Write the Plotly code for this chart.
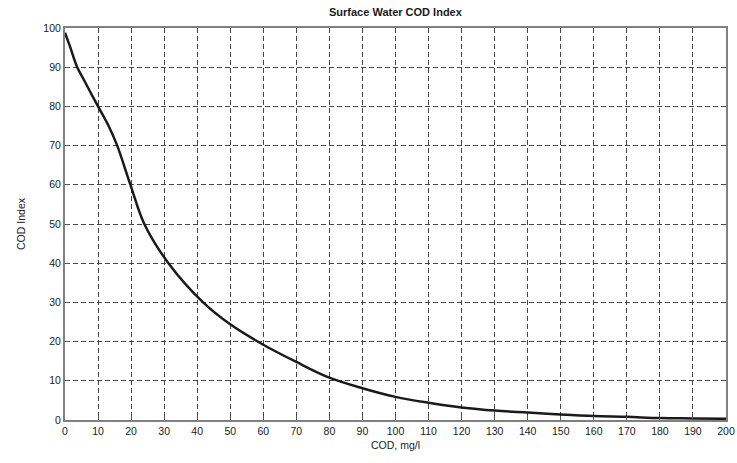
import plotly.graph_objects as go

cod_mg_l = [0, 1.5, 3.7, 5.7, 7.7, 10, 13.2, 15.8, 19.8, 24, 31.3, 41.8, 50, 60,
            70, 80, 90, 100, 110, 120, 130, 140, 150, 160, 170, 180, 190, 200]
cod_index = [98.8, 95.3, 90, 86.8, 83.6, 80, 75, 70, 60, 50, 40, 30, 24.4, 19.2,
             14.8, 10.8, 8.1, 5.9, 4.4, 3.2, 2.4, 1.9, 1.4, 1.0, 0.8, 0.5, 0.4, 0.3]

title_text = "Surface Water COD Index"
x_title = "COD, mg/l"
y_title = "COD Index"

fig = go.Figure()
fig.add_trace(go.Scatter(x=cod_mg_l, y=cod_index, mode="lines",
                         line=dict(color="#1a1a1a", width=2.5, shape="spline", smoothing=1.0),
                         showlegend=False))

font = dict(family="Liberation Sans, Arial, sans-serif", size=10.5, color="#1a1a1a")

axis_common = dict(showgrid=True, gridcolor="#444", griddash="5px,3px", gridwidth=1,
                   showline=True, linecolor="#808080", linewidth=2, mirror=True,
                   ticks="inside", ticklen=4, tickcolor="#555", zeroline=False,
                   tickfont=font, automargin=False)

fig.update_layout(
    width=737, height=463,
    margin=dict(l=65, r=11, t=28, b=43),
    paper_bgcolor="white", plot_bgcolor="white",
    font=font,
    xaxis=dict(range=[0, 200], dtick=10, tick0=0,
               title=dict(text=x_title, standoff=6, font=font), **axis_common),
    yaxis=dict(range=[0, 100], dtick=10, tick0=0,
               title=dict(text=y_title, standoff=16, font=font), **axis_common),
    annotations=[dict(text="<b>" + title_text + "</b>", x=0.5, xref="paper", xanchor="center",
                      y=1, yref="paper", yanchor="bottom", yshift=8, showarrow=False,
                      font=dict(family="Liberation Sans, Arial, sans-serif", size=11, color="#1a1a1a"))],
)

fig.write_html("out.html", config={"displayModeBar": False})

# remove the default page margin so the figure sits at the window's top-left corner
with open("out.html", "r", encoding="utf-8") as f:
    html = f.read()
html = html.replace("<head>", "<head><style>html,body{margin:0;padding:0;overflow:hidden;}</style>", 1)
with open("out.html", "w", encoding="utf-8") as f:
    f.write(html)
